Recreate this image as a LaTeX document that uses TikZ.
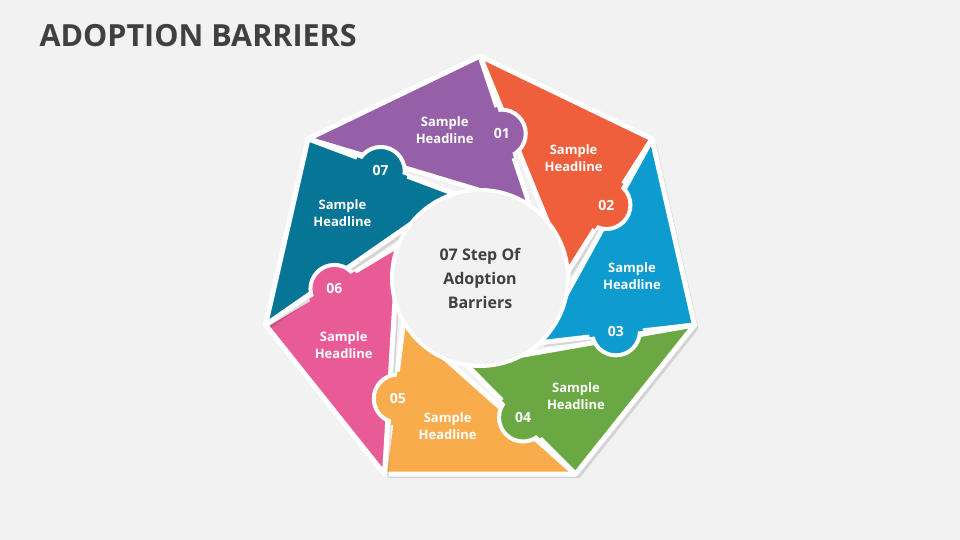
\documentclass[tikz,border=0pt]{standalone}
\usepackage{fontspec}
\setmainfont{Open Sans}
\definecolor{bgcol}{HTML}{F2F2F2}
\definecolor{txtcol}{HTML}{404040}
\definecolor{c1}{HTML}{9660A8}
\definecolor{c2}{HTML}{F05F3C}
\definecolor{c3}{HTML}{0E9BCF}
\definecolor{c4}{HTML}{6AA843}
\definecolor{c5}{HTML}{F8AC4B}
\definecolor{c6}{HTML}{E85B96}
\definecolor{c7}{HTML}{077596}
\tikzset{
  piece/.style={draw=white,line width=5pt,line join=round},
  bump/.style={circle,draw=white,line width=4pt,minimum size=48pt,inner sep=0pt,
    text=white,font=\bfseries\fontsize{14}{14}\selectfont},
  head/.style={text=white,align=center,font=\bfseries\fontsize{13}{17}\selectfont}
}
\begin{document}
\begin{tikzpicture}[x=1pt,y=-1pt]
  \useasboundingbox[fill=bgcol] (0,0) rectangle (960,540);
  \node[anchor=west,text=txtcol,font=\bfseries\fontsize{30.5}{30.5}\selectfont] (title) at (36,36) {ADOPTION BARRIERS};

  % pieces of the heptagon
  \foreach \i in {1,...,7}{
    \pgfmathsetmacro{\a}{141.43-51.43*(\i-1)}
    \coordinate (o\i) at ({480+220*cos(\a)},{276-220*sin(\a)});
    \coordinate (w\i) at ({480+220*cos(\a-51.43)},{276-220*sin(\a-51.43)});
    \coordinate (m\i) at ({480+88*cos(\a-86)},{278-88*sin(\a-86)});
    \fill[black,opacity=0.12] ([shift={(4,4)}]o\i) -- ([shift={(4,4)}]w\i) -- ([shift={(4,4)}]m\i) -- cycle;
    \draw[piece,fill=c\i] (o\i) -- (w\i) -- (m\i) -- cycle;
  }

  % centre circle
  \node[circle,fill=bgcol,draw=white,line width=4pt,minimum size=176pt,align=center,
    text=txtcol,font=\bfseries\fontsize{16}{24}\selectfont] (core) at (480,278)
    {07 Step Of\\Adoption\\Barriers};

  % number tabs and headlines
  \foreach \i in {1,...,7}{
    \pgfmathsetmacro{\a}{141.43-51.43*(\i-1)}
    \node[bump,fill=c\i] (n\i) at ({480+146*cos(\a-60)},{278-146*sin(\a-60)}) {};
    \begin{scope}
      \clip (o\i) -- (w\i) -- (m\i) -- cycle;
      \fill[c\i] (n\i) circle (27pt);
    \end{scope}
    \node[text=white,font=\bfseries\fontsize{14}{14}\selectfont] (l\i) at (n\i) {0\i};
    \node[head] (t\i) at ({480+152*cos(\a-38)},{278-152*sin(\a-38)}) {Sample\\Headline};
  }
\end{tikzpicture}
\end{document}
